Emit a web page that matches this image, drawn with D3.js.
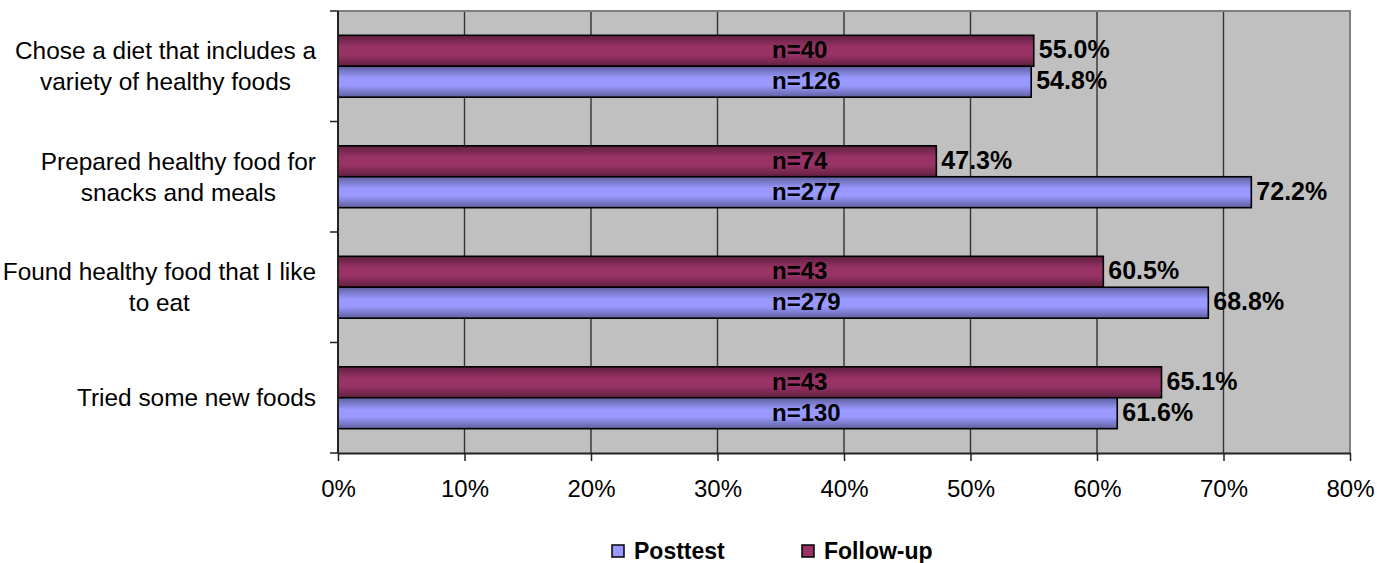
<!DOCTYPE html>
<html>
<head>
<meta charset="utf-8">
<script src="https://cdn.jsdelivr.net/npm/d3@7"></script>
<style>
  html, body { margin: 0; padding: 0; background: #ffffff; }
  svg { display: block; }
  text { font-family: "Liberation Sans", Arial, sans-serif; fill: #000; }
</style>
</head>
<body>
<svg id="chart" width="1377" height="563"></svg>
<script>
// Survey items (top to bottom)
const categories = [
  "Chose a diet that includes a\nvariety of healthy foods",
  "Prepared healthy food for\nsnacks and meals",
  "Found healthy food that I like\nto eat",
  "Tried some new foods"
];
const seriesNames = ["Follow-up", "Posttest"];
const posttestValues = [54.8, 72.2, 68.8, 61.6];
const followupValues = [55.0, 47.3, 60.5, 65.1];
const posttestN = [126, 277, 279, 130];
const followupN = [40, 74, 43, 43];
const xTicks = [0, 10, 20, 30, 40, 50, 60, 70, 80];

const rows = categories.map((c, i) => ({
  category: c,
  bars: [
    { series: "Follow-up", value: followupValues[i], n: followupN[i] },
    { series: "Posttest", value: posttestValues[i], n: posttestN[i] }
  ]
}));

const colors = { "Posttest": "#9999FF", "Follow-up": "#993366" };

const svg = d3.select("#chart");
const plot = { left: 338, right: 1350, top: 11, bottom: 453 };

const x = d3.scaleLinear().domain([0, 80]).range([plot.left, plot.right]);
const y = d3.scaleBand().domain(categories).range([plot.top, plot.bottom])
  .paddingInner(0.44).paddingOuter(0.22);
const ySub = d3.scaleBand().domain(seriesNames).range([0, y.bandwidth()]);

// Shaded fills: dark along the edges, full colour through the middle
const defs = svg.append("defs");
Object.entries(colors).forEach(([name, col]) => {
  const id = "grad-" + name.replace(/[^a-z]/gi, "");
  const dark = d3.color(col).darker(1.3).formatHex();
  const g = defs.append("linearGradient").attr("id", id)
    .attr("x1", 0).attr("y1", 0).attr("x2", 0).attr("y2", 1);
  g.append("stop").attr("offset", "0%").attr("stop-color", dark);
  g.append("stop").attr("offset", "38%").attr("stop-color", col);
  g.append("stop").attr("offset", "62%").attr("stop-color", col);
  g.append("stop").attr("offset", "100%").attr("stop-color", dark);
});
const gradUrl = name => "url(#grad-" + name.replace(/[^a-z]/gi, "") + ")";

// Plot background
svg.append("rect")
  .attr("x", plot.left).attr("y", plot.top)
  .attr("width", plot.right - plot.left).attr("height", plot.bottom - plot.top)
  .attr("fill", "#C0C0C0");

// Vertical gridlines
svg.append("g")
  .selectAll("line")
  .data(xTicks.filter(t => t > 0 && t < 80))
  .join("line")
  .attr("x1", d => x(d)).attr("x2", d => x(d))
  .attr("y1", plot.top).attr("y2", plot.bottom)
  .attr("stroke", "#333").attr("stroke-width", 1.4);

// Top and right plot border
svg.append("path")
  .attr("d", `M${plot.left},${plot.top}H${plot.right}V${plot.bottom}`)
  .attr("fill", "none").attr("stroke", "#808080").attr("stroke-width", 2);

// Bars
const groups = svg.append("g").selectAll("g")
  .data(rows).join("g")
  .attr("transform", d => `translate(0,${y(d.category)})`);

groups.selectAll("rect")
  .data(d => d.bars).join("rect")
  .attr("x", x(0))
  .attr("y", d => ySub(d.series))
  .attr("width", d => x(d.value) - x(0))
  .attr("height", ySub.bandwidth())
  .attr("fill", d => gradUrl(d.series))
  .attr("stroke", "#000").attr("stroke-width", 1.6);

// Sample size labels inside the bars
const nLabelX = 772;
groups.selectAll("text.n")
  .data(d => d.bars).join("text")
  .attr("class", "n")
  .attr("x", nLabelX)
  .attr("y", d => ySub(d.series) + ySub.bandwidth() / 2 + 7.5)
  .attr("font-size", 24).attr("font-weight", "bold")
  .text(d => "n=" + d.n);

// Value labels after the bar ends
groups.selectAll("text.v")
  .data(d => d.bars).join("text")
  .attr("class", "v")
  .attr("x", d => x(d.value) + 5)
  .attr("y", d => ySub(d.series) + ySub.bandwidth() / 2 + 7.5)
  .attr("font-size", 25).attr("font-weight", "bold")
  .text(d => d.value.toFixed(1) + "%");

// X axis
const xAxis = d3.axisBottom(x).tickValues(xTicks).tickFormat(d => d + "%")
  .tickSize(8).tickSizeOuter(0).tickPadding(19);
const gx = svg.append("g").attr("transform", `translate(0,${plot.bottom})`).call(xAxis);
gx.select(".domain").attr("stroke", "#222").attr("stroke-width", 2);
gx.selectAll(".tick line").attr("stroke", "#222").attr("stroke-width", 1.5);
gx.selectAll(".tick text")
  .attr("font-family", "Liberation Sans, Arial, sans-serif")
  .attr("font-size", 24).attr("fill", "#000");

// Y axis line with boundary ticks between categories
const bounds = d3.range(categories.length + 1).map(i => plot.top + i * y.step());
svg.append("line")
  .attr("x1", plot.left).attr("x2", plot.left)
  .attr("y1", plot.top).attr("y2", plot.bottom)
  .attr("stroke", "#222").attr("stroke-width", 2);
svg.append("g").selectAll("line")
  .data(bounds).join("line")
  .attr("x1", plot.left - 8).attr("x2", plot.left)
  .attr("y1", d => d).attr("y2", d => d)
  .attr("stroke", "#222").attr("stroke-width", 1.5);

// Category labels: lines centred on each other, block right-aligned
const labelRight = 316;
const lineGap = 31;
categories.forEach(c => {
  const lines = c.split("\n");
  const cy = y(c) + y.bandwidth() / 2;
  const g = svg.append("g");
  const texts = lines.map((ln, i) => g.append("text")
    .attr("font-size", 24.4)
    .attr("y", cy + (i - (lines.length - 1) / 2) * lineGap + 8.5)
    .attr("text-anchor", "middle")
    .text(ln));
  const maxW = d3.max(texts, t => t.node().getComputedTextLength());
  texts.forEach(t => t.attr("x", labelRight - maxW / 2));
});

// Legend
const legendItems = [
  { name: "Posttest", x: 612 },
  { name: "Follow-up", x: 802 }
];
const lg = svg.append("g").selectAll("g").data(legendItems).join("g")
  .attr("transform", d => `translate(${d.x},545)`);
lg.append("rect")
  .attr("width", 12).attr("height", 12)
  .attr("fill", d => colors[d.name])
  .attr("stroke", "#000").attr("stroke-width", 1.5);
lg.append("text")
  .attr("x", 22).attr("y", 13.5)
  .attr("font-size", 23).attr("font-weight", "bold")
  .text(d => d.name);
</script>
</body>
</html>
